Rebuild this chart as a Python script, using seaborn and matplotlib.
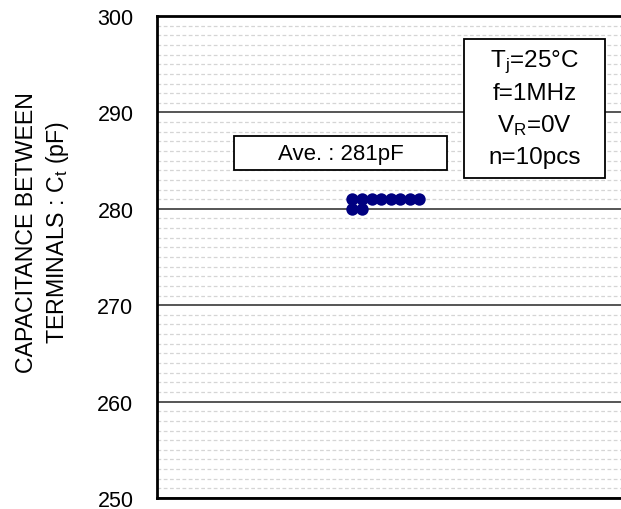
import matplotlib
matplotlib.use('Agg')
import matplotlib.pyplot as plt
import matplotlib.patches as patches
from matplotlib.ticker import MultipleLocator
import pandas as pd
import seaborn as sns

# measured capacitance (pF), n = 10 pcs
ct_values = [281, 281, 281, 281, 281, 281, 281, 281, 280, 280]
y_ticks = [250, 260, 270, 280, 290, 300]
ave_label = 'Ave. : 281pF'
cond_lines = [r'$\mathregular{T_j}$=25°C', 'f=1MHz', r'$\mathregular{V_R}$=0V', 'n=10pcs']

# stack equal values side by side (dot plot)
df = pd.DataFrame({'ct': ct_values})
df['pos'] = df.groupby('ct').cumcount()

sns.set_style('white')
plt.rcParams['font.family'] = ['Liberation Sans', 'DejaVu Sans']
plt.rcParams['mathtext.fontset'] = 'custom'
plt.rcParams['mathtext.rm'] = 'Liberation Sans'
plt.rcParams['text.color'] = 'black'
plt.rcParams['axes.labelcolor'] = 'black'
plt.rcParams['ytick.color'] = 'black'

fig = plt.figure(figsize=(6.21, 5.10), dpi=100)
ax = fig.add_axes([0.2528, 0.0216, 0.76, 0.945])

sns.scatterplot(data=df, x='pos', y='ct', ax=ax, color='#000080', s=80,
                edgecolor='#000080', linewidth=0, zorder=5, legend=False)

ax.set_ylim(y_ticks[0], y_ticks[-1])
ax.set_xlim(-20.5, 29.0)
ax.set_yticks(y_ticks)
ax.yaxis.set_minor_locator(MultipleLocator(1))
ax.set_xticks([])
ax.grid(which='major', axis='y', color='#555555', linewidth=1.4, linestyle='-')
ax.grid(which='minor', axis='y', color='#d5d5d5', linewidth=0.9, linestyle=(0, (3, 2)))
ax.set_axisbelow(True)
ax.tick_params(axis='y', which='both', length=0, labelsize=15.5, pad=17)

for side in ['left', 'top', 'bottom']:
    ax.spines[side].set_color('black')
    ax.spines[side].set_linewidth(2)
ax.spines['right'].set_visible(False)

ax.set_xlabel('')
ax.set_ylabel('CAPACITANCE BETWEEN\nTERMINALS : C$\\mathregular{_t}$ (pF)',
              fontsize=16.7, linespacing=1.3)
ax.yaxis.set_label_coords(-0.183, 0.552)

# average box
ax.add_patch(patches.Rectangle((0.164, 0.680), 0.450, 0.071, transform=ax.transAxes,
                               facecolor='white', edgecolor='black', linewidth=1.3, zorder=6))
ax.text(0.389, 0.7155, ave_label, transform=ax.transAxes, ha='center', va='center',
        fontsize=16, zorder=7)

# conditions box
ax.add_patch(patches.Rectangle((0.651, 0.664), 0.299, 0.288, transform=ax.transAxes,
                               facecolor='white', edgecolor='black', linewidth=1.3, zorder=6))
for i, line in enumerate(cond_lines):
    ax.text(0.8005, 0.907 - i * 0.0665, line, transform=ax.transAxes, ha='center',
            va='center', fontsize=17.5, zorder=7)

fig.savefig('out.png', dpi=100)
